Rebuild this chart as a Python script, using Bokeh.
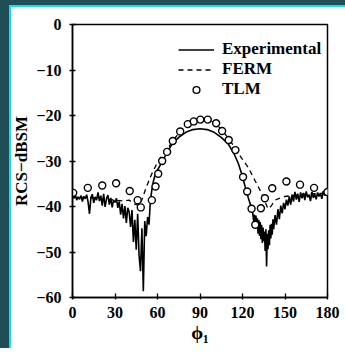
from bokeh.plotting import figure
from bokeh.models import Range1d, FixedTicker, GlobalInlineStyleSheet
from bokeh.embed import file_html
from bokeh.resources import INLINE

# ---------------- data ----------------
exp_phi = [0, 1, 2, 3, 4, 5, 6, 7, 8, 9, 10, 11, 12, 13, 14, 15, 16, 17, 18, 19,
           20, 21, 22, 23, 24, 25, 26, 27, 28, 29, 30, 31, 32, 33, 34, 35, 36, 37, 38, 39,
           40, 41, 42, 43, 44, 45, 46, 47, 48, 49, 50, 51, 52, 53, 54, 55, 56, 57, 58,
           60, 63, 66, 70, 75, 80, 85, 90, 95, 100, 105, 110, 114, 117, 120, 122, 124, 126,
           127, 128, 128.5, 129, 129.5, 130, 130.5, 131, 131.5, 132, 132.5, 133, 133.5,
           134, 134.5, 135, 135.5, 136, 136.5, 137, 137.5, 138, 138.5, 139, 139.5, 140,
           140.5, 141, 141.5, 142,
           143, 144, 145, 146, 147, 148, 149, 150, 151, 152, 153, 154, 155, 156, 157, 158,
           159, 160, 161, 162, 163, 164, 165, 166, 167, 168, 169, 170, 171, 172, 173, 174,
           175, 176, 177, 178, 179, 180]
exp_rcs = [-36.8, -38.2, -37.5, -38.6, -37.9, -38.4, -37.6, -38.9, -37.8, -38.3,
           -37.4, -39.0, -41.6, -38.0, -37.3, -39.2, -37.9, -38.6, -36.9, -38.8,
           -37.6, -39.8, -37.2, -40.1, -38.3, -37.5, -39.6, -38.1, -40.2, -38.6,
           -39.1, -38.2, -40.3, -38.9, -41.8, -39.4, -42.6, -39.9, -43.6, -40.3,
           -41.2, -44.5, -40.8, -47.8, -42.9, -49.5, -41.6, -50.8, -54.2, -44.8,
           -58.6, -43.2, -46.5, -42.3, -44.0, -38.6, -36.4, -34.6, -33.4,
           -32.0, -30.3, -28.6, -26.4, -24.8, -23.7, -23.1, -22.9, -23.1, -23.7, -24.8,
           -26.3, -28.4, -30.5, -33.4, -35.8, -38.0, -40.0,
           -41.0, -43.5, -41.8, -44.2, -42.0, -44.8, -42.6, -46.0, -43.0, -46.5,
           -43.4, -47.2, -44.0, -48.0, -44.6, -47.6, -45.5, -49.8, -45.0, -53.2,
           -46.0, -49.4, -45.2, -48.5, -44.0, -47.0, -43.8, -46.2, -42.8, -45.0,
           -41.9, -44.0, -40.6, -42.8, -39.8,
           -41.5, -39.2, -40.6, -38.5, -39.8, -37.8, -39.6, -37.4, -38.9, -36.8,
           -38.5, -37.2, -39.0, -36.9, -38.2, -37.0, -38.6, -36.7, -38.0, -37.4,
           -38.8, -36.8, -38.1, -37.3, -38.4, -36.9, -37.8, -37.1, -38.3, -36.6,
           -37.6, -36.9, -37.5, -36.8]

ferm_phi = [0, 10, 20, 30, 36, 40, 44, 47, 49, 52, 56, 60, 63, 67, 71, 76, 81, 85,
            90, 95, 100, 105, 110, 114, 119, 124, 129, 133, 136, 138, 140, 143, 146,
            150, 160, 170, 180]
ferm_rcs = [-38.0, -38.0, -38.3, -38.6, -38.8, -38.6, -39.5, -39.8, -38.5, -35.8,
            -32.8, -30.3, -28.8, -27.4, -25.5, -23.5, -22.0, -21.4, -21.0, -21.0,
            -21.5, -23.0, -25.0, -26.8, -29.2, -31.4, -34.4, -36.8, -39.0, -40.5,
            -40.0, -38.6, -38.2, -37.8, -37.4, -37.2, -37.0]

tlm_phi = [0.5, 10.8, 21, 30.8, 40.4, 46, 48.2, 56, 58.6, 60.5, 63.3, 66.8, 70.8,
           76, 81.4, 85.6, 90.3, 95.5, 101.4, 105.6, 110.3, 115, 120.4, 123.3, 126.4,
           129, 133, 135.8, 141, 151, 160.6, 170.5, 180]
tlm_rcs = [-37.0, -35.9, -35.4, -34.9, -36.6, -38.6, -40.2, -38.6, -35.6, -32.8,
           -30.0, -28.0, -25.6, -23.5, -21.9, -21.3, -20.9, -20.9, -21.7, -23.4,
           -25.4, -27.6, -33.5, -36.7, -40.5, -44.0, -40.4, -38.2, -36.0, -34.5,
           -35.2, -35.9, -36.8]

x_ticks = [0, 30, 60, 90, 120, 150, 180]
x_tick_labels = ["0", "30", "60", "90", "120", "150", "180"]
y_ticks = [0, -10, -20, -30, -40, -50, -60]
y_tick_labels = ["0", "\u221210", "\u221220", "\u221230", "\u221240", "\u221250", "\u221260"]

# ---------------- figure ----------------
p = figure(width=345, height=348, output_backend="svg", toolbar_location=None,
           x_range=Range1d(0, 180), y_range=Range1d(-60, 0),
           min_border_left=72, min_border_top=24, min_border_right=18, min_border_bottom=51)
p.border_fill_alpha = 0
p.background_fill_color = "white"
p.styles = {"background-color": "white",
            "box-shadow": "inset 9px 5px 0 0 #1f4e57, inset 11px 7px 0 0 #14dfe6"}
p.stylesheets = [GlobalInlineStyleSheet(css="html, body { overflow: hidden; margin: 0; background: white; }")]
p.outline_line_color = "black"
p.outline_line_width = 1.5
p.grid.visible = False

serif = "Liberation Serif"
for ax in (p.xaxis[0], p.yaxis[0]):
    ax.axis_line_width = 1.5
    ax.axis_line_color = "black"
    ax.major_tick_line_color = "black"
    ax.major_tick_line_width = 1.3
    ax.minor_tick_line_color = None
    ax.major_label_text_font = serif
    ax.major_label_text_font_style = "bold"
    ax.major_label_text_font_size = "16px"
    ax.major_label_text_color = "black"
    ax.axis_label_text_font = serif
    ax.axis_label_text_font_style = "bold"
    ax.axis_label_text_color = "black"

p.xaxis.ticker = FixedTicker(ticks=x_ticks)
p.xaxis.major_label_overrides = dict(zip(x_ticks, x_tick_labels))
p.xaxis.major_tick_in = 4
p.xaxis.major_tick_out = 2
p.xaxis.major_label_standoff = 7
p.xaxis.axis_label = "\u03d5\u2081"
p.xaxis.axis_label_text_font_size = "19px"
p.xaxis.axis_label_standoff = 1

p.yaxis.ticker = FixedTicker(ticks=y_ticks)
p.yaxis.major_label_overrides = dict(zip(y_ticks, y_tick_labels))
p.yaxis.major_tick_in = 3
p.yaxis.major_tick_out = 3
p.yaxis.major_label_standoff = 8
p.yaxis.axis_label = "RCS\u2212dBSM"
p.yaxis.axis_label_text_font_size = "17px"
p.yaxis.axis_label_standoff = 2

p.line(exp_phi, exp_rcs, line_color="black", line_width=1.6, legend_label="Experimental")
p.line(ferm_phi, ferm_rcs, line_color="black", line_width=1.3, line_dash="5 4",
       legend_label="FERM")
p.scatter(tlm_phi, tlm_rcs, marker="circle", size=7, fill_color="white",
          line_color="black", line_width=1.4, legend_label="TLM")

lg = p.legend[0]
lg.location = (106, 198)
lg.background_fill_alpha = 0
lg.border_line_alpha = 0
lg.label_text_font = serif
lg.label_text_font_style = "bold"
lg.label_text_font_size = "17px"
lg.label_text_color = "black"
lg.glyph_width = 36
lg.glyph_height = 17
lg.label_height = 17
lg.label_standoff = 8
lg.spacing = 0
lg.padding = 0
lg.margin = 0

open("out.html", "w").write(file_html(p, INLINE))
